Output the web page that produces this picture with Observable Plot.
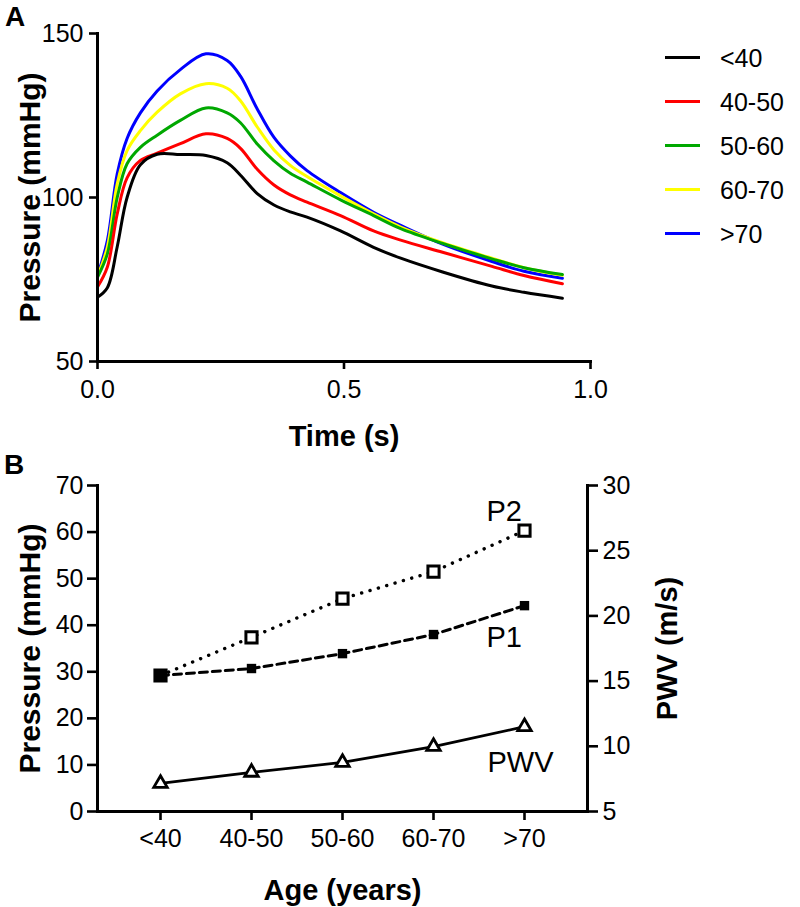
<!DOCTYPE html>
<html><head><meta charset="utf-8">
<script src="https://cdn.jsdelivr.net/npm/d3@7"></script>
<script src="https://cdn.jsdelivr.net/npm/@observablehq/plot@0.6"></script>
<style>
body{margin:0;background:#fff;}
#fig{position:relative;width:800px;height:907px;font-family:"Liberation Sans",Arial,sans-serif;overflow:hidden;background:#fff;}
#fig svg{position:absolute;left:0;}
.plabel{position:absolute;font-weight:bold;font-size:28px;line-height:1;}
.legtext{position:absolute;font-size:25px;line-height:1;left:720px;}
.legline{position:absolute;left:665px;width:35px;height:3px;}
</style></head><body><div id="fig"></div>
<script>
// ---------- Panel A data ----------
const ageGroups = ["<40", "40-50", "50-60", "60-70", ">70"];
const groupColors = ["#000000", "#ff0000", "#00a800", "#ffff00", "#0000ff"];
const time = [0, 0.02, 0.04, 0.06, 0.087, 0.121, 0.168, 0.22, 0.263, 0.29, 0.324, 0.358, 0.391, 0.425, 0.493, 0.56, 0.615, 0.7, 0.8, 0.865, 0.943];
const pLt40  = [69.6, 72.5, 85.0, 100.0, 110.0, 113.2, 113.1, 112.8, 110.6, 106.8, 101.2, 97.7, 95.6, 94.0, 89.8, 84.8, 81.5, 77.3, 73.0, 71.1, 69.3];
const p40_50 = [72.7, 78.8, 95.0, 106.0, 111.3, 113.5, 116.4, 119.4, 118.0, 115.0, 108.6, 103.8, 100.8, 98.6, 94.5, 89.8, 87.0, 83.3, 79.0, 76.2, 73.7];
const p50_60 = [75.7, 82.8, 100.0, 110.3, 115.3, 119.0, 123.5, 127.3, 125.8, 122.8, 116.3, 111.2, 107.4, 104.7, 99.3, 94.5, 90.5, 86.0, 81.3, 78.6, 76.5];
const p60_70 = [76.0, 84.9, 104.2, 114.3, 120.4, 126.0, 131.6, 134.7, 133.3, 129.5, 121.5, 114.5, 109.8, 106.4, 100.5, 95.0, 91.0, 86.2, 81.5, 78.6, 76.3];
const pGt70  = [76.2, 86.9, 107.2, 118.0, 125.8, 132.5, 139.0, 143.8, 141.8, 137.0, 127.0, 118.3, 112.7, 108.2, 101.5, 95.5, 91.5, 85.8, 80.5, 77.5, 75.4];
const seriesA = [pLt40, p40_50, p50_60, p60_70, pGt70];
const xTicksA = [0, 0.5, 1];
const yTicksA = [50, 100, 150];

// ---------- Panel B data ----------
const ageCats = ["<40", "40-50", "50-60", "60-70", ">70"];
const p1 = [29.2, 30.7, 33.9, 38.0, 44.2];
const p2 = [29.2, 37.4, 45.7, 51.5, 60.3];
const pwv = [7.15, 8.0, 8.76, 9.98, 11.5];
const yTicksB = [0, 10, 20, 30, 40, 50, 60, 70];
const pwvTicks = [5, 10, 15, 20, 25, 30];
const seriesNames = ["P1", "P2", "PWV"];

const fig = d3.select("#fig");
const font = '"Liberation Sans", Arial, sans-serif';

// ---------- Panel A ----------
const dataA = [];
for (let gi = ageGroups.length - 1; gi >= 0; gi--) {
  time.forEach((t, i) => dataA.push({t, p: seriesA[gi][i], g: ageGroups[gi]}));
}
const plotA = Plot.plot({
  width: 800, height: 460,
  marginLeft: 97, marginRight: 210, marginTop: 33, marginBottom: 99,
  style: {fontFamily: font, fontSize: "25px", color: "black", background: "transparent", overflow: "visible"},
  x: {domain: [0, 1]},
  y: {domain: [50, 150]},
  color: {domain: ageGroups, range: groupColors},
  marks: [
    Plot.line(dataA, {x: "t", y: "p", z: "g", stroke: "g", curve: "catmull-rom", strokeWidth: 3}),
    Plot.frame({anchor: "left", strokeWidth: 3}),
    Plot.frame({anchor: "bottom", strokeWidth: 3}),
    Plot.axisX({ticks: xTicksA, tickFormat: d3.format(".1f"), tickSize: 8, tickPadding: 11, strokeWidth: 2.6, label: null}),
    Plot.axisY({ticks: yTicksA, tickSize: 8, tickPadding: 6, strokeWidth: 2.6, label: null}),
    Plot.text(["Time (s)"], {text: d => d, frameAnchor: "bottom", dy: 75, fontSize: 29, fontWeight: "bold", textAnchor: "middle", lineAnchor: "middle"}),
    Plot.text(["Pressure (mmHg)"], {text: d => d, frameAnchor: "left", rotate: -90, dx: -67, fontSize: 30, fontWeight: "bold", textAnchor: "middle", lineAnchor: "middle"})
  ]
});
d3.select(plotA).style("top", "0px");
fig.node().appendChild(plotA);

// ---------- Panel B ----------
const pwvToP = v => (v - 5) * 70 / 25;
const dataB = ageCats.map((a, i) => ({age: a, p1: p1[i], p2: p2[i], pwv: pwvToP(pwv[i])}));
const last = dataB[dataB.length - 1];
const plotB = Plot.plot({
  width: 800, height: 467,
  marginLeft: 97, marginRight: 213, marginTop: 45, marginBottom: 96,
  style: {fontFamily: font, fontSize: "25px", color: "black", background: "transparent", overflow: "visible"},
  x: {type: "point", domain: ageCats, padding: 0.67},
  y: {domain: [0, 70]},
  marks: [
    Plot.line(dataB, {x: "age", y: "p2", stroke: "black", strokeWidth: 3.4, strokeDasharray: "0.1,8.6", strokeLinecap: "round"}),
    Plot.line(dataB, {x: "age", y: "p1", stroke: "black", strokeWidth: 3, strokeDasharray: "8,5"}),
    Plot.line(dataB, {x: "age", y: "pwv", stroke: "black", strokeWidth: 2.8}),
    Plot.dot(dataB, {x: "age", y: "p2", symbol: "square", r: 6.3, stroke: "black", fill: "white", strokeWidth: 3}),
    Plot.dot(dataB, {x: "age", y: "p1", symbol: "square", r: 5.3, fill: "black"}),
    Plot.dot(dataB, {x: "age", y: "pwv", symbol: "triangle", r: 5, stroke: "black", fill: "white", strokeWidth: 2.8}),
    Plot.frame({anchor: "left", strokeWidth: 3}),
    Plot.frame({anchor: "right", strokeWidth: 3}),
    Plot.frame({anchor: "bottom", strokeWidth: 3}),
    Plot.axisX({ticks: ageCats, tickSize: 9, tickPadding: 9, strokeWidth: 2.6, label: null}),
    Plot.axisY({ticks: yTicksB, tickSize: 10, tickPadding: 4, strokeWidth: 2.6, label: null}),
    Plot.axisY({anchor: "right", ticks: pwvTicks.map(pwvToP), tickFormat: d => String(Math.round(d * 25 / 70 + 5)), tickSize: 10, tickPadding: 5, strokeWidth: 2.6, label: null}),
    Plot.text([{age: last.age, y: last.p2, name: seriesNames[1]}], {x: "age", y: "y", text: "name", textAnchor: "start", dx: -38, dy: -19, fontSize: 29, lineAnchor: "middle"}),
    Plot.text([{age: last.age, y: last.p1, name: seriesNames[0]}], {x: "age", y: "y", text: "name", textAnchor: "start", dx: -38, dy: 32, fontSize: 29, lineAnchor: "middle"}),
    Plot.text([{age: last.age, y: last.pwv, name: seriesNames[2]}], {x: "age", y: "y", text: "name", textAnchor: "start", dx: -37, dy: 36, fontSize: 29, lineAnchor: "middle"}),
    Plot.text(["Age (years)"], {text: d => d, frameAnchor: "bottom", dy: 79, fontSize: 29, fontWeight: "bold", textAnchor: "middle", lineAnchor: "middle"}),
    Plot.text(["Pressure (mmHg)"], {text: d => d, frameAnchor: "left", rotate: -90, dx: -67, fontSize: 30, fontWeight: "bold", textAnchor: "middle", lineAnchor: "middle"}),
    Plot.text(["PWV (m/s)"], {text: d => d, frameAnchor: "right", rotate: -90, dx: 80, fontSize: 29, fontWeight: "bold", textAnchor: "middle", lineAnchor: "middle"})
  ]
});
d3.select(plotB).style("top", "440px");
fig.node().appendChild(plotB);

// ---------- Legend (panel A) ----------
ageGroups.forEach((g, i) => {
  const cy = 57 + i * 44.2;
  fig.append("div").attr("class", "legline").style("top", (cy - 1.5) + "px").style("background", groupColors[i]);
  fig.append("div").attr("class", "legtext").style("top", (cy - 11.5) + "px").text(g);
});

// ---------- Panel letters ----------
fig.append("div").attr("class", "plabel").style("left", "5px").style("top", "3px").text("A");
fig.append("div").attr("class", "plabel").style("left", "4px").style("top", "451px").text("B");
</script>
</body></html>
